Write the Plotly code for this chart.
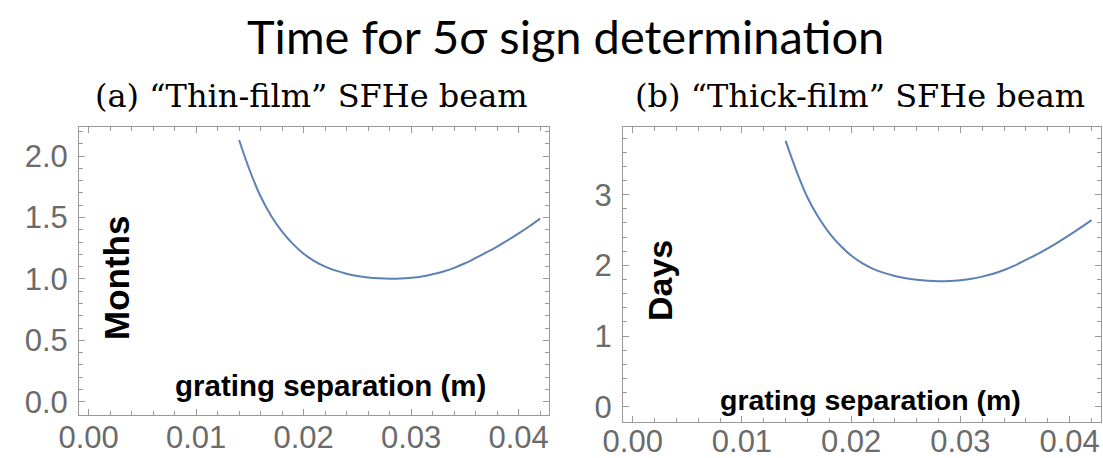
import plotly.graph_objects as go

# grating separation (m)
sep = [0.014, 0.015, 0.016, 0.017, 0.018, 0.019, 0.020, 0.021, 0.022, 0.023,
       0.024, 0.025, 0.026, 0.027, 0.028, 0.029, 0.030, 0.031, 0.032, 0.033,
       0.034, 0.035, 0.036, 0.037, 0.038, 0.039, 0.040, 0.041, 0.042]
# (a) thin-film: time in months
months = [2.13, 1.88, 1.67, 1.51, 1.385, 1.285, 1.205, 1.145, 1.100, 1.067,
          1.042, 1.024, 1.012, 1.004, 1.000, 1.002, 1.009, 1.020, 1.037, 1.060,
          1.090, 1.127, 1.170, 1.215, 1.263, 1.315, 1.370, 1.428, 1.49]
# (b) thick-film: time in days
days = [3.76, 3.33, 2.96, 2.68, 2.457, 2.280, 2.138, 2.031, 1.951, 1.893,
        1.849, 1.816, 1.795, 1.781, 1.774, 1.778, 1.790, 1.809, 1.840, 1.880,
        1.934, 1.999, 2.076, 2.155, 2.241, 2.333, 2.430, 2.533, 2.64]

xticks = [0.00, 0.01, 0.02, 0.03, 0.04]
xticklabels = ["0.00", "0.01", "0.02", "0.03", "0.04"]
yticks_a = [0.0, 0.5, 1.0, 1.5, 2.0]
yticklabels_a = ["0.0", "0.5", "1.0", "1.5", "2.0"]
yticks_b = [0, 1, 2, 3]
yticklabels_b = ["0", "1", "2", "3"]

W, H = 1103, 458
LINE = "#5E81B5"
FRAME = "#9a9a9a"
TICKFONT = dict(family="Liberation Sans, Arial", size=31, color="#6b6b6b")

fig = go.Figure()
fig.add_trace(go.Scatter(x=sep, y=months, mode="lines", line=dict(color=LINE, width=2, shape="spline"),
                         xaxis="x", yaxis="y", showlegend=False))
fig.add_trace(go.Scatter(x=sep, y=days, mode="lines", line=dict(color=LINE, width=2, shape="spline"),
                         xaxis="x2", yaxis="y2", showlegend=False))

def ax(domain, rng, tickvals, ticktext, minor_dt, anchor, standoff):
    return dict(domain=domain, range=rng, tickvals=tickvals, ticktext=ticktext,
                showline=True, linecolor=FRAME, linewidth=1, mirror="allticks",
                ticks="inside", ticklen=6, tickcolor=FRAME, tickwidth=1,
                minor=dict(ticks="inside", ticklen=4, tickcolor=FRAME, dtick=minor_dt, tick0=0),
                showgrid=False, zeroline=False, tickfont=TICKFONT, anchor=anchor,
                automargin=False, ticklabelstandoff=standoff)

fig.update_layout(
    width=W, height=H, margin=dict(l=0, r=0, t=0, b=0, autoexpand=False),
    plot_bgcolor="white", paper_bgcolor="white",
    xaxis=ax([79 / W, 549 / W], [-0.00089, 0.04282], xticks, xticklabels, 0.002, "y", -5),
    yaxis=ax([1 - 415 / H, 1 - 127 / H], [-0.108, 2.236], yticks_a, yticklabels_a, 0.1, "x", 4),
    xaxis2=ax([623 / W, 1101 / W], [-0.00089, 0.04287], xticks, xticklabels, 0.002, "y2", -8),
    yaxis2=ax([1 - 421.7 / H, 1 - 127 / H], [-0.212, 3.957], yticks_b, yticklabels_b, 0.2, "x2", 4),
)

def ann(text, x, y, size, family, color="black", angle=0, bold=False):
    if bold:
        text = "<b>" + text + "</b>"
    fig.add_annotation(text=text, x=x / W, y=1 - y / H, xref="paper", yref="paper",
                       xanchor="center", yanchor="middle", showarrow=False, textangle=angle,
                       font=dict(family=family, size=size, color=color))

ann("Time for 5σ sign determination", 565, 36, 47, "Lato, Open Sans")
ann("(a) “Thin-film” SFHe beam", 311, 96, 32, "DejaVu Serif")
ann("(b) “Thick-film” SFHe beam", 860, 96, 32, "DejaVu Serif")
ann("Months", 116, 278, 35, "Liberation Sans, Arial", angle=-90, bold=True)
ann("Days", 660, 281, 34, "Liberation Sans, Arial", angle=-90, bold=True)
ann("grating separation (m)", 330, 385, 29.5, "Liberation Sans, Arial", bold=True)
ann("grating separation (m)", 870, 400, 28.5, "Liberation Sans, Arial", bold=True)

fig.write_html("out.html")
